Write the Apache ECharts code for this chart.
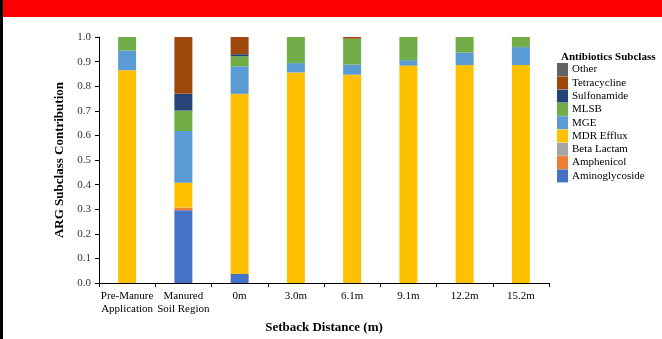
<!DOCTYPE html>
<html>
<head>
<meta charset="utf-8">
<script src="https://cdn.jsdelivr.net/npm/echarts@6/dist/echarts.min.js"></script>
<style>
  html, body { margin: 0; padding: 0; background: #fff; }
  #chart { width: 662px; height: 339px; }
</style>
</head>
<body>
<div id="chart"></div>
<script>
// categories along the x axis
const categories = ['Pre-Manure\nApplication', 'Manured\nSoil Region', '0m', '3.0m', '6.1m', '9.1m', '12.2m', '15.2m'];
const yTicks = [0, 0.1, 0.2, 0.3, 0.4, 0.5, 0.6, 0.7, 0.8, 0.9, 1.0];

// stacked from bottom to top
const aminoglycoside = [0, 0.296, 0.037, 0, 0, 0, 0, 0];
const amphenicol     = [0, 0.009, 0, 0, 0, 0, 0, 0];
const betaLactam     = [0, 0.002, 0, 0, 0, 0, 0, 0];
const mdrEfflux      = [0.865, 0.101, 0.732, 0.856, 0.847, 0.884, 0.886, 0.886];
const mge            = [0.080, 0.210, 0.112, 0.038, 0.041, 0.022, 0.051, 0.073];
const mlsb           = [0.055, 0.083, 0.041, 0.106, 0.105, 0.094, 0.063, 0.041];
const sulfonamide    = [0, 0.068, 0.008, 0, 0, 0, 0, 0];
const tetracycline   = [0, 0.231, 0.070, 0, 0.007, 0, 0, 0];
const other          = [0, 0, 0, 0, 0, 0, 0, 0];

const font = 'Liberation Serif';

const seriesDefs = [
  { name: 'Aminoglycoside', data: aminoglycoside, color: '#4472C4' },
  { name: 'Amphenicol', data: amphenicol, color: '#ED7D31' },
  { name: 'Beta Lactam', data: betaLactam, color: '#A5A5A5' },
  { name: 'MDR Efflux', data: mdrEfflux, color: '#FFC000' },
  { name: 'MGE', data: mge, color: '#5B9BD5' },
  { name: 'MLSB', data: mlsb, color: '#70AD47' },
  { name: 'Sulfonamide', data: sulfonamide, color: '#264478' },
  { name: 'Tetracycline', data: tetracycline, color: '#9E480E' },
  { name: 'Other', data: other, color: '#636363' }
];

const chart = echarts.init(document.getElementById('chart'));

const option = {
  animation: false,
  textStyle: { fontFamily: font },
  graphic: [
    { type: 'rect', left: 0, top: 0, shape: { width: 662, height: 17 }, style: { fill: '#FF0000' }, z: 10 },
    { type: 'rect', left: 0, top: 0, shape: { width: 3, height: 339 }, style: { fill: '#000' }, z: 11 }
  ],
  title: {
    text: 'Antibiotics Subclass',
    left: 556,
    top: 47,
    textStyle: { fontFamily: font, fontSize: 11, fontWeight: 'bold', color: '#000' }
  },
  legend: {
    orient: 'vertical',
    left: 552,
    top: 58,
    itemWidth: 11,
    itemHeight: 13,
    itemGap: 0.3,
    icon: 'rect',
    data: seriesDefs.map(s => s.name).reverse(),
    textStyle: { fontFamily: font, fontSize: 11, color: '#000', padding: [0, 0, 0, -1] }
  },
  grid: { left: 99, right: 113, top: 37, bottom: 50 },
  xAxis: {
    type: 'category',
    data: categories,
    name: 'Setback Distance (m)',
    nameLocation: 'middle',
    nameGap: 37,
    nameTextStyle: { fontFamily: font, fontSize: 13, fontWeight: 'bold', color: '#000' },
    axisLine: { lineStyle: { color: '#000', width: 1 } },
    axisTick: { show: true, length: 4, lineStyle: { color: '#000' } },
    axisLabel: { interval: 0, fontFamily: font, fontSize: 11, color: '#000', lineHeight: 13, margin: 7 }
  },
  yAxis: {
    type: 'value',
    min: yTicks[0],
    max: yTicks[yTicks.length - 1],
    interval: 0.1,
    name: 'ARG Subclass Contribution',
    nameLocation: 'middle',
    nameGap: 29,
    nameTextStyle: { fontFamily: font, fontSize: 13, fontWeight: 'bold', color: '#000' },
    axisLine: { show: true, lineStyle: { color: '#000', width: 1 } },
    axisTick: { show: true, length: 4, lineStyle: { color: '#000' } },
    splitLine: { show: false },
    axisLabel: { fontFamily: font, fontSize: 11, color: '#333', margin: 8, formatter: v => v.toFixed(1) }
  },
  series: seriesDefs.map(s => ({
    name: s.name,
    type: 'bar',
    stack: 'total',
    barWidth: 18,
    data: s.data,
    itemStyle: { color: s.color }
  }))
};

chart.setOption(option);
</script>
</body>
</html>
